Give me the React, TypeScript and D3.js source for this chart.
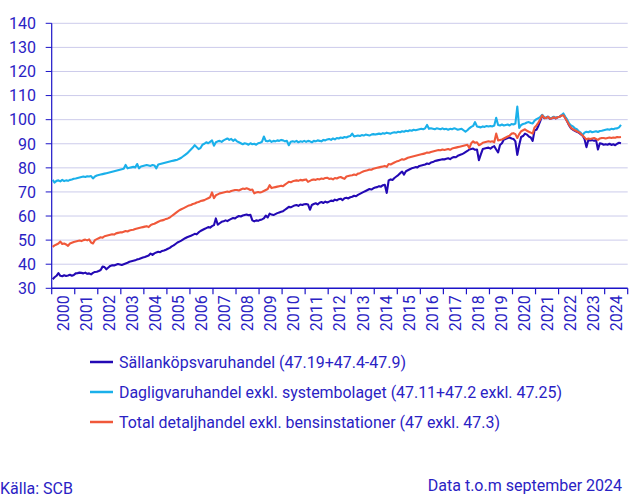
import React from "react";
import * as d3 from "d3";

const years = d3.range(2000, 2025).map(String);
const yTicks = [30, 40, 50, 60, 70, 80, 90, 100, 110, 120, 130, 140];

const seriesNames = [
  "Sällanköpsvaruhandel (47.19+47.4-47.9)",
  "Dagligvaruhandel exkl. systembolaget (47.11+47.2 exkl. 47.25)",
  "Total detaljhandel exkl. bensinstationer (47 exkl. 47.3)",
];
const seriesColors = ["#2309b4", "#1ab0ea", "#f0583a"];

// Monthly values, Jan 2000 – Sep 2024
const salj: number[] = [
  33.8, 34.6, 35.2, 36.3, 35.2, 35.0, 35.4, 35.1, 35.3, 35.6, 35.2, 35.5,
  36.2, 36.3, 36.5, 36.4, 36.2, 36.5, 36.0, 36.2, 35.8, 36.4, 36.8, 36.9,
  37.2, 37.6, 39.0, 38.8, 37.9, 38.6, 39.3, 39.6, 39.5, 39.8, 40.1, 39.9,
  39.7, 40.0, 40.3, 40.6, 41.0, 41.2, 41.4, 41.6, 42.0, 42.2, 42.5, 42.8,
  43.0, 43.3, 43.6, 44.4, 43.9, 44.5, 44.9, 45.2, 45.0, 45.5, 45.7, 46.0,
  46.4, 46.8, 47.4, 47.8, 48.4, 49.0, 49.4, 49.8, 50.3, 50.8, 51.2, 51.5,
  51.8, 52.2, 52.6, 52.4, 53.2, 53.8, 54.2, 54.6, 55.0, 55.4, 55.2, 55.8,
  56.2, 59.0, 56.4, 57.0, 57.6, 57.8, 58.2, 57.9, 58.4, 58.8, 59.2, 59.0,
  59.6, 60.0, 59.8, 60.2, 60.4, 60.6, 60.3, 60.5, 58.2, 57.8, 58.2, 58.0,
  58.4, 58.6, 59.0, 60.2, 59.4, 61.0, 60.6, 60.4, 60.8, 61.2, 61.5, 61.8,
  62.0, 62.6, 63.2, 63.8, 63.6, 64.0, 64.4, 64.6, 64.2, 64.8, 64.6, 64.9,
  65.0, 64.8, 62.6, 64.6, 65.0, 65.3, 64.8, 65.5, 65.8, 65.4, 66.0, 65.6,
  66.0, 66.4, 66.2, 66.8, 66.5, 67.0, 67.2, 66.6, 67.4, 67.6, 67.3, 67.8,
  68.0, 68.4, 68.2, 68.8, 69.2, 69.6, 70.0, 70.4, 70.8, 71.2, 71.0, 71.5,
  71.8, 72.0, 72.4, 72.2, 72.8, 73.0, 69.6, 74.8, 75.2, 75.0, 75.8, 76.4,
  77.0, 77.8, 78.4, 77.2, 78.6, 79.0, 79.4, 79.8, 80.0, 80.3, 80.2, 80.8,
  81.0, 81.2, 81.4, 81.8, 81.6, 82.2, 82.4, 82.8, 83.0, 83.2, 83.4, 83.6,
  83.5, 83.8, 84.0, 83.6, 84.2, 84.5, 84.4, 85.0, 85.3, 85.6, 86.0, 86.5,
  87.0, 87.6, 87.8, 88.0, 87.5, 87.6, 83.2, 85.6, 87.8, 88.0, 88.2, 88.4,
  88.0, 88.6, 89.0, 87.6, 86.4, 89.5, 90.2, 91.8, 92.0, 92.4, 92.6, 92.2,
  92.0, 91.0, 85.4, 89.5, 92.8, 93.2, 94.2, 93.8, 93.0, 92.6, 91.2, 95.6,
  95.8, 97.5, 99.5, 101.8, 100.6, 100.8, 101.2, 100.4, 100.6, 101.0, 100.5, 101.0,
  101.2, 101.8, 102.0, 100.8, 99.2, 97.6, 96.4, 95.8, 95.4, 95.0, 94.6, 94.0,
  93.4, 92.0, 88.6, 91.6, 91.4, 91.5, 91.2, 91.6, 87.6, 90.2, 90.0, 89.6,
  89.8, 89.6, 90.0, 89.5, 89.8, 89.4, 90.0, 90.4, 90.2,
];

const daglig: number[] = [
  75.0, 73.9, 74.6, 74.8, 74.4, 75.0, 74.5, 74.8, 74.6, 75.0, 75.2, 75.5,
  75.6, 75.8, 76.0, 76.2, 76.4, 76.2, 76.5, 76.4, 76.6, 75.6, 76.4, 76.8,
  77.0, 77.2, 77.4, 77.6, 77.8, 78.0, 78.2, 78.4, 78.6, 78.8, 79.0, 79.2,
  79.4, 79.6, 81.2, 79.8, 80.0, 80.2, 80.4, 80.2, 81.6, 79.8, 80.6, 80.8,
  81.0, 81.2, 81.0, 80.8, 81.2, 81.0, 79.8, 81.4, 81.6, 81.8, 82.0, 82.2,
  82.4, 82.6, 82.8, 83.0, 83.2, 83.4, 83.8, 84.2, 84.8, 85.4, 86.0, 86.8,
  87.6, 88.4, 89.4, 88.6, 87.8, 88.2, 89.6, 90.0, 90.6, 90.2, 90.8, 91.4,
  89.2, 90.6, 91.0, 91.2, 90.8, 91.4, 91.8, 92.2, 91.6, 92.0, 91.2, 91.8,
  91.0, 90.6, 90.2, 89.8, 90.2, 90.0, 89.6, 90.2, 89.8, 90.0, 89.6, 90.2,
  90.4, 90.8, 93.0, 91.2, 91.0, 91.4, 90.8, 91.2, 91.0, 91.4, 91.2, 91.6,
  91.4, 91.0, 91.2, 89.4, 90.8, 91.0, 90.8, 91.2, 90.6, 91.0, 90.8, 91.2,
  90.8, 91.2, 91.0, 90.6, 91.2, 91.0, 91.4, 91.2, 91.0, 91.6, 91.4, 91.8,
  92.0, 91.6, 92.2, 91.8, 92.4, 92.2, 92.6, 92.4, 92.8, 92.6, 93.0, 93.2,
  94.2, 93.0, 93.2, 93.4, 93.2, 93.6, 93.4, 93.8, 93.6, 93.4, 93.8, 94.0,
  93.8, 94.0, 94.2, 94.0, 94.4, 94.2, 94.6, 94.4, 94.2, 94.6, 94.8, 94.6,
  95.0, 94.8, 95.2, 95.0, 95.4, 95.2, 95.6, 95.4, 95.8, 95.6, 95.8, 96.0,
  96.2, 96.0, 96.4, 97.8, 96.2, 96.4, 96.2, 96.0, 96.4, 96.2, 96.0, 96.4,
  96.0, 96.2, 95.8, 96.2, 96.0, 96.4, 96.2, 95.8, 96.0, 96.2, 95.6, 95.0,
  95.6, 96.4, 97.0, 97.4, 99.0, 97.2, 97.0, 96.8, 97.2, 97.0, 97.4, 97.2,
  97.4, 97.2, 97.6, 100.8, 97.8, 97.6, 98.0, 97.6, 97.8, 98.0, 97.6, 98.2,
  98.0, 98.4, 105.4, 96.6, 97.8, 98.2, 98.4, 98.8, 99.0, 98.6, 98.4, 99.6,
  100.2, 100.6, 101.2, 102.0, 101.0, 100.8, 101.2, 100.6, 100.8, 101.2, 100.8, 101.0,
  101.2, 101.8, 102.6, 101.2, 100.0, 98.4, 97.6, 97.2, 96.4, 96.0, 95.2, 94.6,
  93.6, 94.6, 95.0, 94.8, 95.2, 94.8, 95.0, 95.2, 94.9, 95.3, 95.4, 95.6,
  95.8, 96.0, 95.8, 96.2, 96.0, 96.3, 96.4, 96.8, 97.8,
];

const total: number[] = [
  47.2, 47.8, 48.2, 48.6, 49.4, 48.4, 48.6, 48.2, 47.6, 48.6, 48.9, 49.2,
  49.4, 49.6, 49.8, 49.6, 50.0, 50.2, 49.9, 50.3, 49.0, 48.6, 50.0, 50.4,
  50.8, 51.2, 51.0, 51.6, 51.8, 52.0, 52.2, 52.4, 52.3, 52.8, 53.0, 53.2,
  53.2, 53.5, 53.8, 53.6, 54.0, 54.2, 54.3, 54.6, 54.8, 55.0, 55.2, 55.4,
  55.6, 55.8, 55.4, 56.2, 56.6, 56.8, 57.2, 57.6, 58.0, 58.2, 58.4, 58.8,
  59.0, 59.4, 60.0, 60.6, 61.2, 61.8, 62.4, 62.8, 63.2, 63.6, 64.0, 64.4,
  64.6, 65.0, 65.2, 65.6, 65.8, 66.2, 66.4, 66.6, 67.0, 67.4, 67.8, 69.8,
  67.4, 68.6, 69.0, 69.4, 69.6, 69.8, 70.0, 70.2, 70.0, 70.4, 70.6, 70.8,
  70.8, 70.6, 71.0, 71.4, 71.2, 71.5, 71.2, 70.8, 71.0, 69.4, 69.8, 70.0,
  69.8, 70.0, 70.4, 70.8, 71.2, 72.8, 71.6, 71.8, 72.0, 72.2, 72.4, 72.6,
  72.4, 73.0, 73.6, 74.2, 74.0, 74.4, 74.6, 74.8, 74.6, 75.0, 74.8, 75.0,
  75.2, 74.2, 74.6, 75.0, 75.2, 75.0, 75.4, 75.2, 75.6, 75.4, 75.8, 75.9,
  75.4, 75.6, 75.2, 75.8, 75.6, 76.0, 76.2, 75.8, 75.4, 76.4, 76.6, 76.8,
  76.9, 77.2, 77.0, 77.6, 77.8, 78.2, 78.6, 78.8, 79.0, 79.3, 79.2, 79.6,
  79.8, 80.0, 80.2, 80.4, 80.6, 80.8, 80.4, 81.6, 81.4, 81.8, 82.2, 82.6,
  82.8, 83.2, 83.6, 83.4, 83.8, 84.2, 84.4, 84.6, 84.8, 85.0, 85.2, 85.4,
  85.6, 85.8, 86.0, 86.4, 86.3, 86.6, 86.8, 87.0, 87.2, 87.4, 87.3, 87.6,
  87.4, 87.6, 87.8, 87.5, 88.0, 88.2, 88.4, 88.6, 88.8, 89.0, 89.2, 89.4,
  89.6, 88.2, 90.2, 91.0, 90.4, 90.6, 89.4, 89.8, 90.4, 90.6, 90.8, 91.0,
  90.8, 91.0, 90.6, 94.2, 91.4, 91.6, 91.8, 92.2, 92.6, 93.0, 93.4, 94.2,
  94.4, 94.0, 92.4, 94.0, 95.2, 95.6, 96.0, 95.4, 95.0, 94.6, 94.2, 96.8,
  97.6, 98.8, 100.2, 101.8, 100.8, 100.6, 101.2, 100.4, 100.6, 101.0, 100.6, 101.0,
  101.2, 101.6, 101.8, 100.6, 99.2, 97.8, 96.6, 96.0, 95.6, 95.2, 94.8, 94.2,
  93.4, 92.6, 91.8, 92.2, 92.0, 92.2, 92.4, 92.0, 91.6, 92.2, 92.4, 92.4,
  92.2, 92.4, 92.6, 92.4, 92.6, 92.5, 92.8, 92.7, 92.8,
];

const sourceText = "Källa: SCB";
const noteText = "Data t.o.m september 2024";

const W = 643;
const H = 502;
const left = 51.7;
const right = 627.7;
const top = 23.3;
const bottom = 288.3;
const textColor = "#2a22c4";
const axisColor = "#1c14c8";
const gridColor = "#cccbeb";
const font = "Roboto, 'Liberation Sans', Arial, sans-serif";
const legendWidths = [287, 443, 381];

export default function App() {
  const x = d3.scaleLinear().domain([0, years.length * 12]).range([left, right]);
  const y = d3.scaleLinear().domain([30, 140]).range([bottom, top]);
  const line = d3
    .line<number>()
    .x((_, i) => x(i + 0.5))
    .y((d) => y(d));
  const data = [salj, daglig, total];
  const drawOrder = [0, 1, 2];
  const legendY = [362, 392, 422];

  return (
    <svg
      width={W}
      height={H}
      style={{ position: "absolute", left: 0, top: 0, background: "#fff" }}
      fontFamily={font}
    >
      {yTicks.map((t) => (
        <g key={t}>
          {t > 30 && (
            <line x1={left} x2={right} y1={y(t)} y2={y(t)} stroke={gridColor} strokeWidth={1} />
          )}
          <line x1={left - 6} x2={left} y1={y(t)} y2={y(t)} stroke={axisColor} strokeWidth={1} />
          <text
            x={36}
            y={y(t)}
            dy="0.36em"
            textAnchor="end"
            fontSize={16}
            fill={textColor}
          >
            {t}
          </text>
        </g>
      ))}
      <line x1={left} x2={left} y1={top} y2={bottom} stroke={axisColor} strokeWidth={1.2} />
      <line x1={left} x2={right} y1={bottom} y2={bottom} stroke={axisColor} strokeWidth={1.5} />
      {d3.range(years.length + 1).map((k) => (
        <line
          key={k}
          x1={x(k * 12)}
          x2={x(k * 12)}
          y1={bottom}
          y2={bottom + 6}
          stroke={axisColor}
          strokeWidth={1.2}
        />
      ))}
      {years.map((yr, k) => (
        <text
          key={yr}
          transform={`translate(${x(k * 12 + 6)},${bottom + 7}) rotate(-90)`}
          textAnchor="end"
          dy="0.36em"
          fontSize={16}
          fill={textColor}
        >
          {yr}
        </text>
      ))}
      {drawOrder.map((s) => (
        <path
          key={s}
          d={line(data[s]) || ""}
          fill="none"
          stroke={seriesColors[s]}
          strokeWidth={2.1}
          strokeLinejoin="round"
        />
      ))}
      {seriesNames.map((name, i) => (
        <g key={name}>
          <line
            x1={90}
            x2={113}
            y1={legendY[i]}
            y2={legendY[i]}
            stroke={seriesColors[i]}
            strokeWidth={2.5}
          />
          <text
            x={119}
            y={legendY[i]}
            dy="0.36em"
            fontSize={16}
            fill={textColor}
            textLength={legendWidths[i]}
            lengthAdjust="spacingAndGlyphs"
          >
            {name}
          </text>
        </g>
      ))}
      <text x={0} y={494} fontSize={16} fill={textColor}>
        {sourceText}
      </text>
      <text x={622} y={491} textAnchor="end" fontSize={16} fill={textColor}>
        {noteText}
      </text>
    </svg>
  );
}
